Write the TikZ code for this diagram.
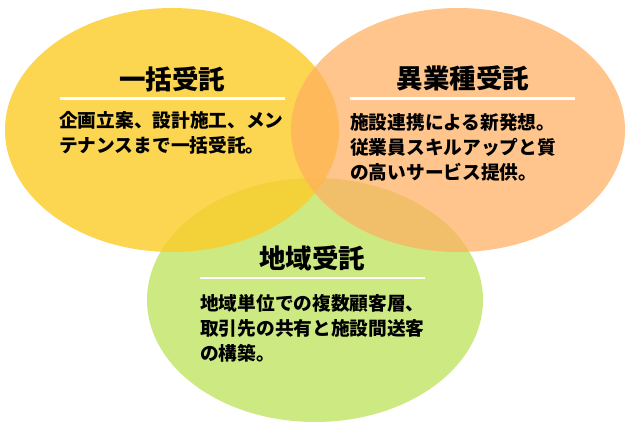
\documentclass[tikz,border=0pt]{standalone}
\usepackage{fontspec}
\newfontfamily\cjk{Noto Sans CJK JP}
\definecolor{ikkatsu}{HTML}{FCCC29}
\definecolor{igyoshu}{HTML}{FFAF60}
\definecolor{chiiki}{HTML}{CDE982}

\begin{document}
\begin{tikzpicture}[x=1pt, y=-1pt,
    titletext/.style={font=\cjk\bfseries\fontsize{26.5}{26.5}\selectfont, anchor=base, inner sep=0pt},
    bodytext/.style={font=\cjk\bfseries\fontsize{18.7}{25}\selectfont, align=left, anchor=base west, inner sep=0pt},
    whiterule/.style={white, line width=2.6pt}]
  \useasboundingbox (0,0) rectangle (630,430);
  % circles, back to front
  \fill[chiiki] (315,300) ellipse [x radius=168, y radius=122];
  \fill[ikkatsu, opacity=0.81] (172,130) ellipse [x radius=167, y radius=122];
  \fill[igyoshu, opacity=0.72] (458,130) ellipse [x radius=167, y radius=122];

  % ikkatsu
  \node[titletext] (t1) at (172,90) {一括受託};
  \coordinate (r1a) at (60,98.5);
  \coordinate (r1b) at (285,98.5);
  \draw[whiterule] (r1a) -- (r1b);
  \node[bodytext] (b1) at (59,153) {企画立案、設計施工、メン\\テナンスまで一括受託。};

  % igyoshu (last line is the base)
  \node[titletext] (t2) at (463,88.5) {異業種受託};
  \coordinate (r2a) at (350,98.5);
  \coordinate (r2b) at (575,98.5);
  \draw[whiterule] (r2a) -- (r2b);
  \node[bodytext] (b2) at (350,179.5) {施設連携による新発想。\\従業員スキルアップと質\\の高いサービス提供。};

  % chiiki
  \node[titletext] (t3) at (312,269) {地域受託};
  \coordinate (r3a) at (200,278);
  \coordinate (r3b) at (425,278);
  \draw[whiterule] (r3a) -- (r3b);
  \node[bodytext] (b3) at (200,360.5) {地域単位での複数顧客層、\\取引先の共有と施設間送客\\の構築。};
\end{tikzpicture}
\end{document}
